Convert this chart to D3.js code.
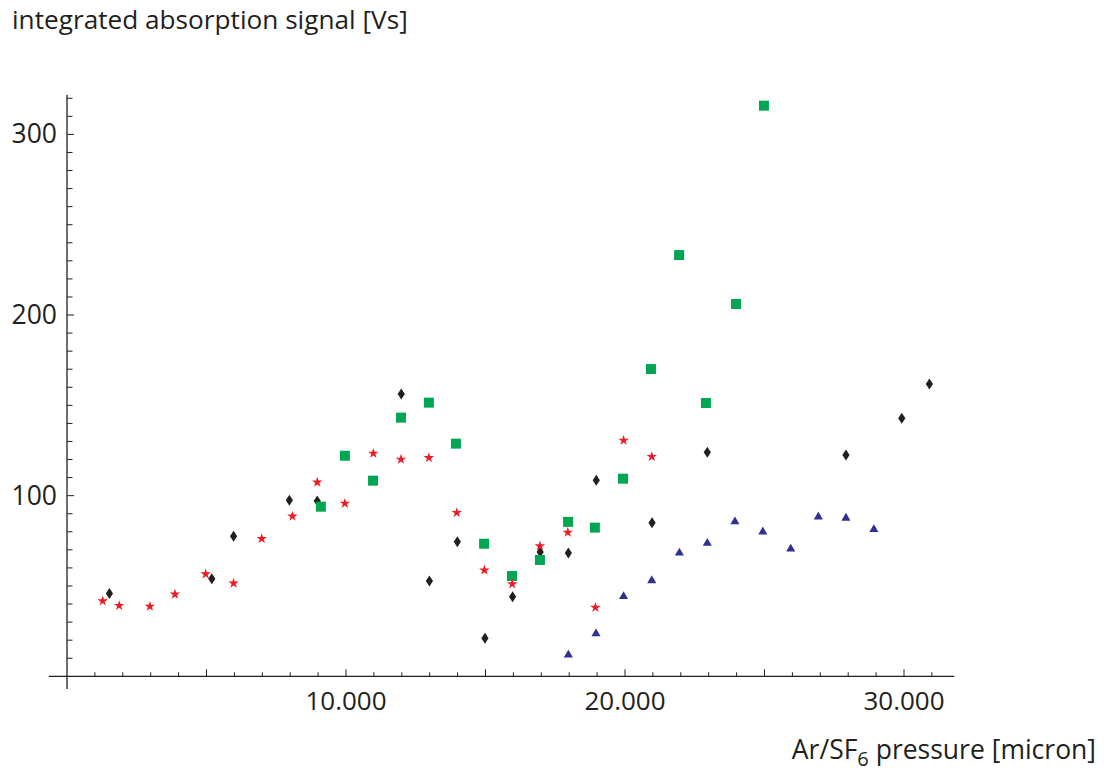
<!DOCTYPE html>
<html>
<head>
<meta charset="utf-8">
<script src="https://cdn.jsdelivr.net/npm/d3@7"></script>
<style>
  html, body { margin: 0; padding: 0; background: #ffffff; }
  svg { display: block; font-family: "Open Sans", "Noto Sans", sans-serif; }
</style>
</head>
<body>
<svg id="chart" width="1108" height="774"></svg>
<script>
// ---- data (pressure in micron, signal in Vs) ----
const blackX = [1520, 5190, 5970, 7970, 8970, 11980, 12990, 13990, 14980, 15970, 16960, 17970, 18970, 20970, 22950, 27920, 29920, 30910];
const blackY = [45.8, 54, 77.5, 97.4, 97, 156.3, 52.7, 74.5, 21, 44.1, 68.8, 68.2, 108.5, 85, 124.1, 122.5, 142.8, 161.8];

const greenX = [9100, 9960, 10970, 11970, 12970, 13940, 14950, 15950, 16950, 17960, 18920, 19930, 20930, 21940, 22900, 23980, 24980];
const greenY = [93.9, 122.1, 108.3, 143.2, 151.5, 128.8, 73.4, 55.5, 64.4, 85.5, 82.3, 109.4, 170.1, 233.2, 151.3, 206.1, 315.9];

const redX = [1280, 1870, 2970, 3870, 4970, 5970, 6980, 8080, 8970, 9960, 10980, 11970, 12970, 13970, 14960, 15960, 16950, 17950, 18940, 19950, 20960];
const redY = [41.7, 39.1, 38.7, 45.4, 56.6, 51.5, 76.2, 88.6, 107.4, 95.7, 123.4, 120.1, 121, 90.6, 58.8, 51.1, 72.1, 79.7, 38.1, 130.6, 121.6];

const blueX = [17970, 18960, 19950, 20960, 21950, 22950, 23940, 24940, 25940, 26930, 27920, 28920];
const blueY = [11.8, 23.6, 44.2, 53, 68.3, 73.7, 85.6, 80, 70.5, 88.3, 87.6, 81.3];

const xMajorLabels = [10000, 20000, 30000];
const yMajorLabels = [100, 200, 300];
const yTitle = "integrated absorption signal [Vs]";
const xTitleMain = "Ar/SF";
const xTitleSub = "6";
const xTitleRest = " pressure [micron]";

// ---- scales ----
const x = d3.scaleLinear().domain([0, 30000]).range([67, 904]);
const y = d3.scaleLinear().domain([0, 300]).range([676.3, 134.4]);
const xExtent = [-650, 31800];
const yExtent = [-7, 322];

const svg = d3.select("#chart");
const ink = "#231f20";

// ---- axes lines ----
svg.append("line")
  .attr("x1", x(xExtent[0])).attr("x2", x(xExtent[1]))
  .attr("y1", y(0)).attr("y2", y(0))
  .attr("stroke", ink).attr("stroke-width", 1.3);
svg.append("line")
  .attr("x1", x(0)).attr("x2", x(0))
  .attr("y1", y(yExtent[0])).attr("y2", y(yExtent[1]))
  .attr("stroke", ink).attr("stroke-width", 1.3);

// x ticks
const xTicks = d3.range(1000, 31001, 1000);
svg.append("g").selectAll("line").data(xTicks).join("line")
  .attr("x1", d => x(d)).attr("x2", d => x(d))
  .attr("y1", y(0))
  .attr("y2", d => y(0) - (d % 5000 === 0 ? 7 : 4))
  .attr("stroke", ink).attr("stroke-width", 1);
svg.append("g").selectAll("text").data(xMajorLabels).join("text")
  .attr("x", d => x(d)).attr("y", 710)
  .attr("text-anchor", "middle")
  .attr("font-size", 26).attr("fill", ink)
  .text(d => d3.format(",")(d).replace(/,/g, "."));

// y ticks
const yTicks = d3.range(10, 321, 10);
svg.append("g").selectAll("line").data(yTicks).join("line")
  .attr("x1", x(0))
  .attr("x2", d => x(0) + (d % 100 === 0 ? 7 : 5.5))
  .attr("y1", d => y(d)).attr("y2", d => y(d))
  .attr("stroke", ink).attr("stroke-width", 1);
svg.append("g").selectAll("text").data(yMajorLabels).join("text")
  .attr("x", 57).attr("y", d => y(d) + 9)
  .attr("text-anchor", "end")
  .attr("font-size", 26.5).attr("fill", ink)
  .text(d => d);

// titles
svg.append("text").attr("x", 12).attr("y", 29)
  .attr("font-size", 26.2).attr("fill", ink).text(yTitle);
const xt = svg.append("text").attr("x", 1096).attr("y", 759)
  .attr("text-anchor", "end").attr("font-size", 26.5).attr("fill", ink);
xt.append("tspan").text(xTitleMain);
xt.append("tspan").attr("dy", 7).attr("font-size", 20).text(xTitleSub);
xt.append("tspan").attr("dy", -7).text(xTitleRest);

// ---- markers ----
function pts(xs, ys) { return xs.map((v, i) => ({x: v, y: ys[i]})); }

// black diamonds
svg.append("g").selectAll("path").data(pts(blackX, blackY)).join("path")
  .attr("transform", d => `translate(${x(d.x)},${y(d.y)})`)
  .attr("d", "M0,-5.5L3.6,0L0,5.5L-3.6,0Z")
  .attr("fill", ink);

// green squares
svg.append("g").selectAll("path").data(pts(greenX, greenY)).join("path")
  .attr("transform", d => `translate(${x(d.x)},${y(d.y)})`)
  .attr("d", d3.symbol(d3.symbolSquare, 100)())
  .attr("fill", "#00a651");

// red stars
svg.append("g").selectAll("path").data(pts(redX, redY)).join("path")
  .attr("transform", d => `translate(${x(d.x)},${y(d.y)})`)
  .attr("d", d3.symbol(d3.symbolStar, 34)())
  .attr("fill", "#ed1c24");

// blue triangles
svg.append("g").selectAll("path").data(pts(blueX, blueY)).join("path")
  .attr("transform", d => `translate(${x(d.x)},${y(d.y)})`)
  .attr("d", d3.symbol(d3.symbolTriangle, 36)())
  .attr("fill", "#2e3192");
</script>
</body>
</html>
